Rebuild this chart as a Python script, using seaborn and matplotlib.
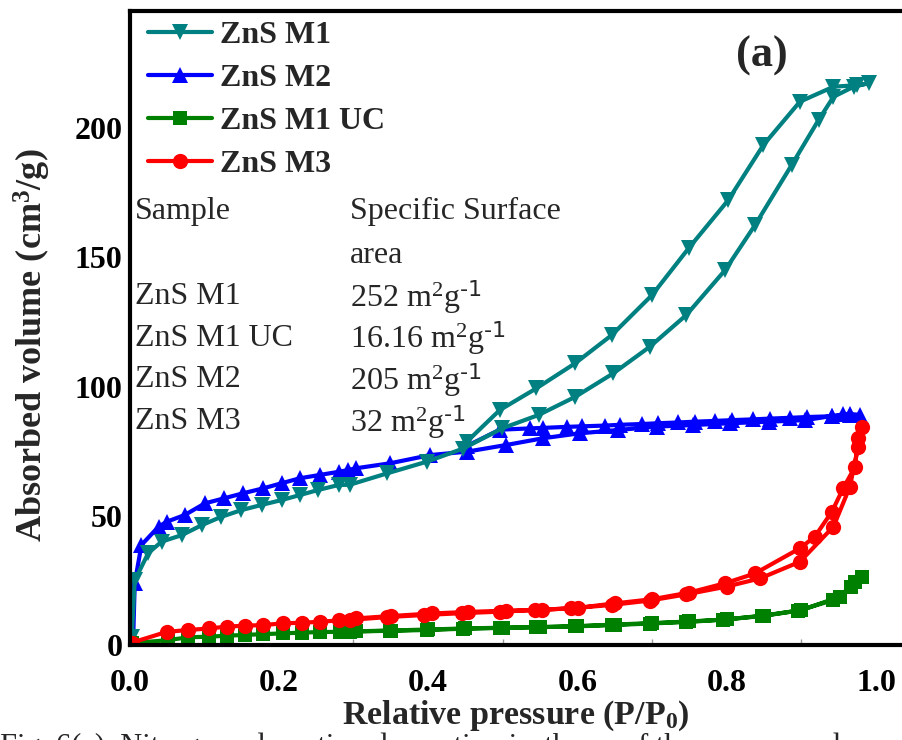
import matplotlib
matplotlib.use("Agg")
import matplotlib.pyplot as plt
import seaborn as sns
import pandas as pd
from matplotlib.ticker import MultipleLocator

# ---- isotherm data: relative pressure (P/P0) and adsorbed volume (cm3/g) ----
m1_ads_p = [0.003, 0.007, 0.025, 0.043, 0.070, 0.097, 0.123, 0.150, 0.177, 0.204, 0.228, 0.253,
            0.280, 0.295, 0.345, 0.398, 0.447, 0.499, 0.548, 0.597, 0.648, 0.697, 0.746, 0.798,
            0.838, 0.887, 0.923, 0.943, 0.970, 0.990]
m1_ads_v = [3.0, 25.0, 35.5, 40.0, 42.5, 46.4, 49.6, 52.2, 54.2, 56.1, 58.0, 60.0,
            61.9, 62.0, 66.4, 70.9, 76.0, 83.8, 89.0, 96.0, 105.1, 115.4, 127.7, 145.1,
            162.5, 185.7, 203.1, 212.1, 216.0, 217.3]
m1_des_p = [0.974, 0.943, 0.898, 0.849, 0.802, 0.749, 0.700, 0.646, 0.597, 0.545, 0.496, 0.452]
m1_des_v = [216.6, 216.0, 210.2, 193.4, 172.1, 153.5, 135.4, 119.9, 109.0, 99.3, 90.9, 78.7]

m2_ads_p = [0.005, 0.007, 0.016, 0.039, 0.050, 0.074, 0.101, 0.126, 0.152, 0.179, 0.204, 0.228,
            0.255, 0.280, 0.293, 0.304, 0.349, 0.403, 0.452, 0.505, 0.554, 0.603, 0.655, 0.706,
            0.755, 0.804, 0.856, 0.905, 0.941, 0.956, 0.965, 0.979]
m2_ads_v = [3.2, 23.9, 38.7, 45.8, 47.7, 50.3, 54.8, 56.7, 58.7, 60.6, 62.6, 64.5,
            65.8, 67.0, 67.7, 68.4, 70.3, 73.5, 74.8, 77.4, 80.0, 81.9, 83.2, 84.5,
            85.1, 85.8, 86.4, 87.0, 88.6, 89.2, 89.4, 89.0]
m2_des_p = [0.965, 0.941, 0.907, 0.885, 0.858, 0.835, 0.807, 0.784, 0.757, 0.735, 0.708, 0.686,
            0.657, 0.637, 0.606, 0.586, 0.554, 0.536, 0.496, 0.452]
m2_des_v = [88.9, 88.5, 88.2, 87.9, 87.6, 87.3, 87.0, 86.7, 86.4, 86.1, 85.8, 85.5,
            85.2, 84.9, 84.6, 84.4, 84.0, 83.8, 83.3, 77.0]

uc_ads_p = [0.003, 0.052, 0.079, 0.106, 0.130, 0.155, 0.179, 0.206, 0.231, 0.255, 0.282, 0.295,
            0.349, 0.398, 0.447, 0.496, 0.545, 0.597, 0.646, 0.697, 0.746, 0.795, 0.847, 0.896,
            0.943, 0.967, 0.981]
uc_ads_v = [0.7, 1.9, 3.0, 3.2, 3.6, 3.9, 4.2, 4.5, 4.8, 5.0, 5.1, 5.2,
            5.5, 5.8, 6.3, 6.6, 6.9, 7.2, 7.7, 8.3, 8.9, 9.8, 11.2, 13.3,
            17.4, 22.6, 26.4]
uc_des_p = [0.972, 0.952, 0.900, 0.850, 0.800, 0.750, 0.700, 0.650, 0.600, 0.550, 0.500, 0.450,
            0.400, 0.350, 0.304]
uc_des_v = [24.5, 18.7, 13.5, 11.4, 9.9, 9.1, 8.5, 7.9, 7.3, 6.9, 6.7, 6.4,
            6.0, 5.6, 5.3]

m3_ads_p = [0.003, 0.050, 0.079, 0.106, 0.130, 0.155, 0.179, 0.206, 0.231, 0.255, 0.280, 0.295,
            0.345, 0.394, 0.445, 0.496, 0.543, 0.592, 0.646, 0.697, 0.746, 0.800, 0.845, 0.898,
            0.943, 0.965, 0.976, 0.981]
m3_ads_v = [0.9, 5.1, 5.8, 6.4, 7.1, 7.5, 7.7, 8.4, 8.6, 9.0, 9.5, 9.7,
            10.8, 11.6, 12.3, 12.9, 13.5, 14.2, 15.5, 17.2, 19.6, 22.6, 25.8, 32.2,
            45.8, 61.2, 76.7, 84.5]
m3_des_p = [0.976, 0.972, 0.956, 0.941, 0.918, 0.898, 0.838, 0.798, 0.750, 0.700, 0.650, 0.601,
            0.552, 0.505, 0.454, 0.405, 0.350, 0.304]
m3_des_v = [80.0, 69.0, 60.6, 51.6, 41.9, 37.4, 27.7, 23.9, 20.3, 17.7, 16.1, 14.4,
            13.6, 13.3, 12.8, 12.2, 11.2, 10.3]

x_ticks = [0.0, 0.2, 0.4, 0.6, 0.8, 1.0]
y_ticks = [0, 50, 100, 150, 200]

table_samples = ["ZnS M1", "ZnS M1 UC", "ZnS M2", "ZnS M3"]
table_areas = ["252", "16.16", "205", "32"]

# ---- styling ----
sns.set_theme(style="white")
plt.rcParams["font.family"] = ["Liberation Serif", "DejaVu Serif"]
plt.rcParams["mathtext.default"] = "regular"

fig = plt.figure(figsize=(9.02, 7.40), dpi=100)
ax = fig.add_axes([129.5 / 902, 95 / 740, 1 - 129.5 / 902, 634 / 740])

series = [
    ("ZnS M2", m2_ads_p + m2_des_p, m2_ads_v + m2_des_v, "#0000FF", "^", 11),
    ("ZnS M1", m1_ads_p + m1_des_p, m1_ads_v + m1_des_v, "#008080", "v", 12),
    ("ZnS M1 UC", uc_ads_p + uc_des_p, uc_ads_v + uc_des_v, "#008000", "s", 9.5),
    ("ZnS M3", m3_ads_p + m3_des_p, m3_ads_v + m3_des_v, "#FF0000", "o", 11),
]

for name, p, v, color, mk, ms in series:
    df = pd.DataFrame({"p": p, "v": v})
    sns.lineplot(data=df, x="p", y="v", ax=ax, sort=False, estimator=None,
                 color=color, marker=mk, markersize=ms, markeredgewidth=0,
                 linewidth=3.0, label=name)

ax.set_xlim(0, (902 - 129.5) / 746.5)
ax.set_ylim(0, 245.3)
ax.set_xticks(x_ticks)
ax.set_yticks(y_ticks)
ax.set_xticklabels([f"{t:.1f}" for t in x_ticks])
ax.set_yticklabels([str(t) for t in y_ticks])
ax.xaxis.set_minor_locator(MultipleLocator(0.1))

for s in ["left", "bottom", "top"]:
    ax.spines[s].set_linewidth(3)
    ax.spines[s].set_color("black")
ax.spines["right"].set_visible(False)

ax.tick_params(axis="both", which="major", direction="out", length=5, width=3,
               labelsize=23, colors="black")
ax.tick_params(axis="x", which="major", pad=12)
ax.tick_params(axis="y", which="major", pad=0)
ax.tick_params(axis="x", which="minor", direction="in", length=4, width=1,
               color="#999999", bottom=True)
for lab in ax.get_xticklabels() + ax.get_yticklabels():
    lab.set_fontweight("bold")

ax.set_xlabel("Relative pressure (P/P$_0$)", fontsize=24.5, fontweight="bold")
ax.xaxis.set_label_coords(0.5003, -0.085)
ax.set_ylabel("Absorbed volume (cm$^3$/g)", fontsize=26, fontweight="bold")
ax.yaxis.set_label_coords(-0.099, 0.473)

# legend in the requested order
handles, labels = ax.get_legend_handles_labels()
order = ["ZnS M1", "ZnS M2", "ZnS M1 UC", "ZnS M3"]
hmap = dict(zip(labels, handles))
leg = ax.legend([hmap[k] for k in order], order, loc="upper left",
                bbox_to_anchor=(0.02, 0.99), frameon=False,
                prop={"family": "Liberation Serif", "weight": "bold", "size": 23},
                handlelength=2.0, handletextpad=0.25, labelspacing=0.43,
                borderpad=0.1, borderaxespad=0.0)

# surface-area table
tfs = 23
row_y = [0.683, 0.615, 0.549, 0.484, 0.418, 0.352]
ax.text(0.007, row_y[0], "Sample", transform=ax.transAxes, fontsize=tfs, va="center")
ax.text(0.2854, row_y[0], "Specific Surface", transform=ax.transAxes, fontsize=tfs, va="center")
ax.text(0.2854, row_y[1], "area", transform=ax.transAxes, fontsize=tfs, va="center")
for i, (s, a) in enumerate(zip(table_samples, table_areas)):
    ax.text(0.007, row_y[i + 2], s, transform=ax.transAxes, fontsize=tfs, va="center")
    ax.text(0.2854, row_y[i + 2], a + r" m$^2$g$^{\text{-1}}$", transform=ax.transAxes,
            fontsize=tfs, va="center")

ax.text(0.819, 0.929, "(a)", transform=ax.transAxes, fontsize=32, fontweight="bold",
        ha="center", va="center")

fig.text(0.0, 1 - 732 / 740, "Fig. 6(a). Nitrogen adsorption desorption isotherm of the as prepared samples",
         fontsize=22, va="top", ha="left")

fig.savefig("out.png", dpi=100)
